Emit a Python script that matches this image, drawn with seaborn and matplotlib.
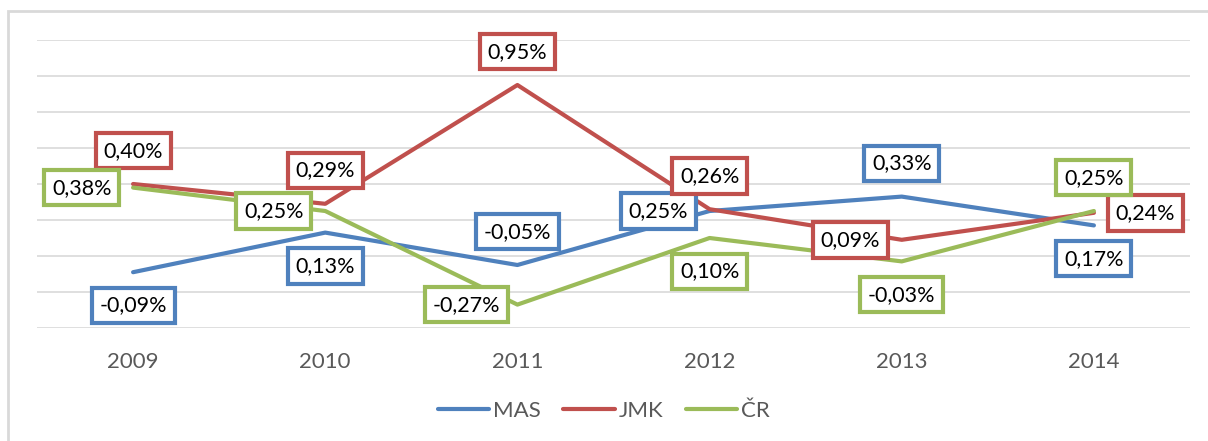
import pandas as pd
import numpy as np
import matplotlib.pyplot as plt
import matplotlib.patches as patches
import seaborn as sns

# data
years = ["2009", "2010", "2011", "2012", "2013", "2014"]
mas = [-0.09, 0.13, -0.05, 0.25, 0.33, 0.17]
jmk = [0.40, 0.29, 0.95, 0.26, 0.09, 0.24]
cr = [0.38, 0.25, -0.27, 0.10, -0.03, 0.25]
series_names = ["MAS", "JMK", "ČR"]

colors = {"MAS": "#4F81BD", "JMK": "#C0504D", "ČR": "#9BBB59"}

# label placement around each point
placement = {
    "MAS": ["below", "below", "above", "left", "above", "below"],
    "JMK": ["above", "above", "above", "above", "left", "right"],
    "ČR": ["left", "left", "left", "below", "below", "above"],
}
offsets = {"above": (0, 24), "below": (0, -24), "left": (-37, 0), "right": (37, 0)}

df = pd.DataFrame({
    "year": years * 3,
    "value": mas + jmk + cr,
    "series": [s for s in series_names for _ in years],
})
df["x"] = np.tile(np.arange(len(years)), 3)

sns.set_style("white")
plt.rcParams["font.family"] = ["Lato", "DejaVu Sans"]

fig = plt.figure(figsize=(12.08, 4.41), dpi=100)
ax = fig.add_axes([37 / 1208, 1 - 328 / 441, (1190 - 37) / 1208, 288 / 441])

sns.lineplot(data=df, x="x", y="value", hue="series", palette=colors,
             linewidth=3, ax=ax, legend=True)

ax.set_xlim(-0.5, len(years) - 0.5)
ax.set_ylim(-0.4, 1.2)
ax.set_yticks(np.arange(-0.4, 1.21, 0.2))
ax.set_yticklabels([])
ax.yaxis.grid(True, color="#D9D9D9", linewidth=1.2)
ax.set_axisbelow(True)
ax.set_xticks(range(len(years)))
ax.set_xticklabels(years, fontsize=16, color="#595959")
ax.tick_params(axis="x", length=0, pad=17)
ax.tick_params(axis="y", length=0)
ax.set_xlabel("")
ax.set_ylabel("")
for sp in ax.spines.values():
    sp.set_visible(False)

# data labels
for name, vals in zip(series_names, [mas, jmk, cr]):
    for i, v in enumerate(vals):
        dx, dy = offsets[placement[name][i]]
        txt = f"{v:.2f}%".replace(".", ",")
        ax.annotate(txt, (i, v), xytext=(dx, dy), textcoords="offset points",
                    ha="center", va="center", fontsize=15.5, color="black",
                    zorder=5, annotation_clip=False,
                    bbox=dict(boxstyle="square,pad=0.36", fc="white",
                              ec=colors[name], lw=3))

leg = ax.legend(loc="center", bbox_to_anchor=(0.5, 1 - 411 / 441), bbox_transform=fig.transFigure,
                ncol=3, frameon=False, fontsize=16, handlelength=2.3,
                handletextpad=0.2, columnspacing=1.0)
for t in leg.get_texts():
    t.set_color("#595959")
for h in leg.get_lines():
    h.set_linewidth(3)
    h.set_solid_capstyle("round")

# outer chart frame
fig.patches.append(patches.Rectangle((8 / 1208, -0.1), 1.2, 1 - 11 / 441 + 0.1,
                                     transform=fig.transFigure, fill=False,
                                     ec="#D9D9D9", lw=2))

fig.savefig("out.png", dpi=100)
